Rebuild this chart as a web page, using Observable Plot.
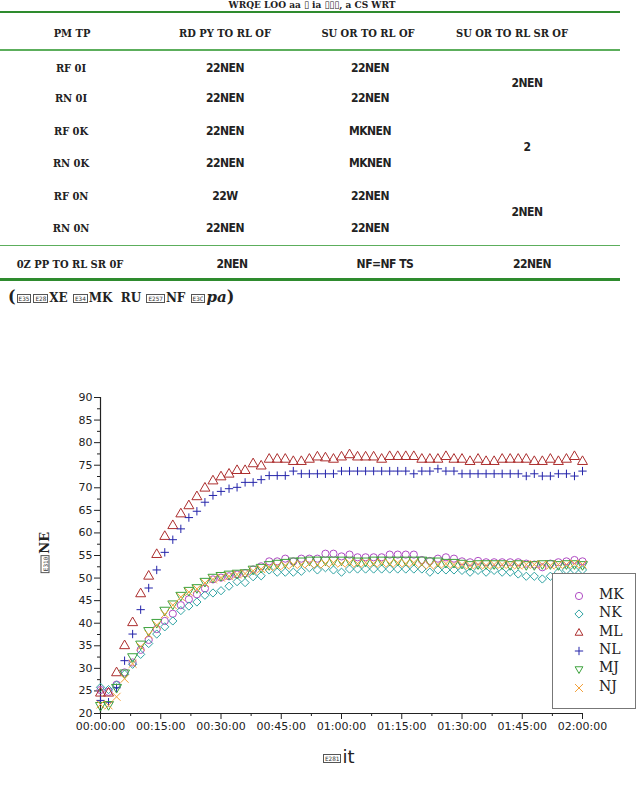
<!DOCTYPE html>
<html><head><meta charset="utf-8">
<script src="https://cdn.jsdelivr.net/npm/d3@7"></script>
<script src="https://cdn.jsdelivr.net/npm/@observablehq/plot@0.6"></script>
<style>
body{margin:0;background:#fff;width:636px;height:794px;overflow:hidden;position:relative;font-family:"DejaVu Sans",sans-serif}
.t{position:absolute;white-space:nowrap;transform:translate(-50%,-50%);font-family:"DejaVu Serif Condensed","DejaVu Serif",serif;font-weight:bold;font-size:11px;color:#222}
.d{font-family:"DejaVu Sans Condensed","DejaVu Sans",sans-serif;font-size:12px;letter-spacing:-0.5px}
.line{position:absolute;left:0;width:620px}
.box{display:inline-block;border:1px solid #555;font-size:6px;line-height:7px;padding:0 1px;vertical-align:middle;font-family:"DejaVu Sans Mono",monospace;font-weight:normal;color:#333;margin:0 1px}
#chart{position:absolute;left:0;top:340px}
#legend{position:absolute;left:552px;top:573px;width:82px;height:134px;border:1px solid #777;background:#fff}
.li{position:absolute;left:0;height:18px;width:82px}
.li span{position:absolute;left:46px;top:-1px;font-family:"DejaVu Serif",serif;font-size:14px;color:#222}
.li svg{position:absolute;left:17px;top:0}
</style></head><body>
<div id="table"></div>
<div id="chart"></div>
<div id="legend"></div>
<div id="ylab" style="position:absolute;left:44px;top:553px;transform:translate(-50%,-50%) rotate(-90deg);white-space:nowrap;font-size:13px;font-family:'DejaVu Serif',serif;font-weight:bold;color:#222"><span class="box">E310</span>NE</div>
<div id="xlab" style="position:absolute;left:322px;top:746px;white-space:nowrap;font-size:18px;font-family:'DejaVu Sans',sans-serif;color:#222"><span class="box">E281</span>it</div>
<script>
// ---- table data ----
const headers = ["PM  TP", "RD PY TO RL OF", "SU OR TO RL OF", "SU OR TO RL SR OF"];
const rowLabels = ["RF 0I", "RN 0I", "RF 0K", "RN 0K", "RF 0N", "RN 0N"];
const col2 = ["22NEN", "22NEN", "22NEN", "22NEN", "22W", "22NEN"];
const col3 = ["22NEN", "22NEN", "MKNEN", "MKNEN", "22NEN", "22NEN"];
const col4Merged = ["2NEN", "2", "2NEN"];
const totalRow = ["0Z PP TO RL SR 0F", "2NEN", "NF=NF TS", "22NEN"];

// ---- chart data (minutes since start) ----
const minutes = [0,2,4,6,8,10,12,14,16,18,20,22,24,26,28,30,32,34,36,38,40,42,44,46,48,50,52,54,56,58,60,62,64,66,68,70,72,74,76,78,80,82,84,86,88,90,92,94,96,98,100,102,104,106,108,110,112,114,116,118,120];
const MK = [25.2,24.8,26.4,29.1,31.3,34.1,36.3,38.7,40.5,42.1, 44.0,45.3,46.4,47.7,49.7,50.1,50.4,50.8,51.1,51.9, 52.6,53.7,53.7,54.3,53.7,54.3,54.3,54.3,55.4,55.4, 54.8,55.2,54.6,54.6,54.6,54.6,55.2,55.2,55.2,55.2, 54.0,53.8,54.3,54.6,54.3,53.7,53.5,53.8,53.5,53.5, 53.5,53.5,53.5,53.2,53.0,52.4,53.2,53.5,53.7,54.0, 53.7];
const NK = [25.8,25.3,26.3,28.7,30.9,33.1,35.5,37.6,39.2,40.5, 42.8,43.8,44.7,46.2,46.7,47.2,48.2,49.2,49.0,50.3, 50.5,51.8,51.3,51.3,51.3,51.5,52.3,51.8,52.3,51.8, 51.3,52.0,52.0,52.0,52.0,52.0,52.0,52.0,52.0,52.0, 52.0,51.3,51.8,51.8,51.8,51.7,51.3,51.7,51.3,51.7, 51.3,51.3,50.9,50.4,50.4,49.8,50.4,51.3,51.8,51.8, 51.8];
const ML = [24.5,24.5,29.0,35.0,40.1,46.5,50.4,55.2,59.2,61.6, 64.2,66.0,68.0,69.9,71.5,72.4,73.0,73.8,73.8,75.3, 74.8,76.3,76.3,76.3,75.8,75.8,76.3,76.8,76.6,76.3, 76.8,77.3,76.8,76.8,76.8,76.3,76.9,76.9,76.9,76.9, 76.3,76.3,76.3,76.9,76.3,76.3,75.8,76.3,75.8,75.8, 76.3,76.3,76.3,76.3,75.8,75.8,76.3,75.8,76.3,76.9, 75.8];
const NL = [22.9,22.5,25.7,31.7,37.6,43.0,47.8,51.8,55.7,58.5, 60.9,63.4,64.8,66.8,68.3,69.2,69.8,70.1,71.2,71.2, 71.8,72.7,72.7,72.7,73.7,73.1,73.1,73.1,73.1,73.1, 73.7,73.7,73.7,73.7,73.7,73.7,73.7,73.7,73.7,73.1, 73.7,73.7,74.2,73.7,73.7,73.1,73.1,73.1,73.1,73.1, 73.1,73.1,73.1,72.6,73.1,72.6,72.6,73.1,73.1,72.6, 73.7];
const MJ = [21.8,22.0,25.8,29.0,32.6,35.4,38.4,40.2,42.9,44.3, 46.2,47.3,47.9,49.3,50.2,50.6,50.9,51.1,51.2,52.0, 52.4,53.0,53.3,53.5,53.8,53.8,54.0,54.0,54.0,54.0, 54.0,54.0,53.8,53.8,54.0,54.0,54.0,54.0,54.0,54.0, 54.0,53.8,53.8,53.5,53.5,53.3,53.0,53.2,53.2,53.2, 53.2,53.0,53.2,53.0,53.0,53.2,53.2,53.0,53.2,53.2, 53.0];
const NJ = [22.0,21.8,23.7,27.7,31.0,34.8,37.5,39.6,42.0,44.0, 45.8,46.9,47.6,48.9,49.7,50.1,50.4,50.8,51.0,51.6, 52.0,52.4,52.6,52.8,53.0,53.0,53.2,53.0,53.2,53.4, 53.2,53.4,53.2,53.4,53.2,53.4,53.2,53.4,53.2,53.4, 53.0,52.8,53.0,53.2,53.0,53.0,52.8,53.0,52.8,53.0, 53.0,53.0,52.8,53.0,53.0,53.0,52.8,53.0,53.0,53.2, 53.0];
const seriesNames = ["MK", "NK", "ML", "NL", "MJ", "NJ"];
const yTicks = [20,25,30,35,40,45,50,55,60,65,70,75,80,85,90];
const yMinor = [22.5,27.5,32.5,37.5,42.5,47.5,52.5,57.5,62.5,67.5,72.5,77.5,82.5,87.5];
const xTicks = [0,15,30,45,60,75,90,105,120];
const xMinor = [7.5,22.5,37.5,52.5,67.5,82.5,97.5,112.5];

// ---- styles ----
const styles = {
  MK: {symbol: "circle", color: "#b04cc4", r: 3.6, rotate: 0},
  NK: {symbol: "diamond2", color: "#2fa3a3", r: 3.7, rotate: 0},
  ML: {symbol: "triangle", color: "#ac2e2e", r: 3.7, rotate: 0},
  NL: {symbol: "plus", color: "#2424aa", r: 2.8, rotate: 0},
  MJ: {symbol: "triangle", color: "#3ca23c", r: 3.7, rotate: 180},
  NJ: {symbol: "times", color: "#f4a13a", r: 3.7, rotate: 0}
};
const values = {MK, NK, ML, NL, MJ, NJ};

// ---- table ----
const T = document.getElementById("table");
function put(txt, x, y, cls = "t") {
  const d = document.createElement("div");
  d.className = cls; d.textContent = txt;
  d.style.left = x + "px"; d.style.top = y + "px";
  T.appendChild(d); return d;
}
function line(y, h, c) {
  const d = document.createElement("div");
  d.className = "line"; d.style.top = y + "px"; d.style.height = h + "px"; d.style.background = c;
  T.appendChild(d);
}
const title = put("WRQE LOO aa \u25AF ia \u25AF\u25AF\u25AF, a CS WRT", 312, 5);
title.style.fontSize = "10px";
title.style.lineHeight = "10px";
line(11, 2, "#2e8b2e");
line(49, 1.5, "#5cae5c");
line(245, 1.2, "#5cae5c");
line(278, 3, "#2e8b2e");
const colX = [72, 225, 368, 512];
headers.forEach((h, i) => put(h, colX[i], 33));
const rowY = [68, 98, 131, 163, 196, 228];
rowLabels.forEach((r, i) => put(r, 71, rowY[i]));
col2.forEach((v, i) => put(v, 225, rowY[i], "t d"));
col3.forEach((v, i) => put(v, 370, rowY[i], "t d"));
const mergedY = [83, 147, 212];
col4Merged.forEach((v, i) => put(v, 527, mergedY[i], "t d"));
const totX = [70, 232, 385, 532];
totalRow.forEach((v, i) => put(v, totX[i], 264, i === 0 ? "t" : "t d"));
const note = document.createElement("div");
note.style.cssText = "position:absolute;left:8px;top:287px;white-space:nowrap;font-family:'DejaVu Serif',serif;font-weight:bold;font-size:12px;color:#222";
note.innerHTML = '<span style="font-size:16px">(</span><span class="box">E35</span><span class="box">E28</span>XE <span class="box">E34</span>MK &nbsp;RU <span class="box">E257</span>NF <span class="box">E3C</span><i style="font-size:15px">pa</i><span style="font-size:16px">)</span>';
T.appendChild(note);

// ---- chart ----
const fmt = m => {
  const h = Math.floor(m / 60), mm = m % 60;
  return String(h).padStart(2, "0") + ":" + String(mm).padStart(2, "0") + ":00";
};
const dotMarks = seriesNames.map(name => {
  const s = styles[name];
  const data = minutes.map((t, i) => ({t, v: values[name][i]}));
  return Plot.dot(data, {x: "t", y: "v", symbol: s.symbol, stroke: s.color, fill: "none", r: s.r, strokeWidth: 1, rotate: s.rotate});
});
const chart = Plot.plot({
  width: 636, height: 454,
  marginTop: 57, marginBottom: 81, marginLeft: 100, marginRight: 54,
  style: {fontFamily: "DejaVu Sans, sans-serif", fontSize: "11px", color: "#222", background: "transparent", overflow: "visible"},
  x: {domain: [0, 120], label: null},
  y: {domain: [20, 90], label: null},
  marks: [
    Plot.axisY({ticks: yMinor, tickSize: 3, tickFormat: () => "", label: null}),
    Plot.axisY({ticks: yTicks, tickSize: 6, tickPadding: 2, label: null, fontSize: 11}),
    Plot.axisX({ticks: xMinor, tickSize: 3, tickFormat: () => "", label: null}),
    Plot.axisX({ticks: xTicks, tickSize: 6, tickPadding: 3, tickFormat: fmt, label: null, fontSize: 11}),
    Plot.ruleX([0], {stroke: "#222", strokeWidth: 1.2}),
    Plot.ruleY([20], {stroke: "#222", strokeWidth: 1.2}),
    ...dotMarks
  ]
});
document.getElementById("chart").appendChild(chart);

// ---- legend ----
const L = document.getElementById("legend");
const legendY = [13, 31, 50, 68, 86, 105];
seriesNames.forEach((name, i) => {
  const s = styles[name];
  const item = document.createElement("div");
  item.className = "li"; item.style.top = legendY[i] + "px";
  const sym = {circle: d3.symbolCircle, diamond2: d3.symbolDiamond2, triangle: d3.symbolTriangle2, plus: d3.symbolPlus, times: d3.symbolTimes}[s.symbol];
  const path = d3.symbol(sym, Math.PI * s.r * s.r)();
  item.innerHTML = `<svg width="18" height="18"><path d="${path}" transform="translate(9,9) rotate(${s.rotate})" fill="none" stroke="${s.color}" stroke-width="1"/></svg><span>${name}</span>`;
  L.appendChild(item);
});
</script>
</body></html>
